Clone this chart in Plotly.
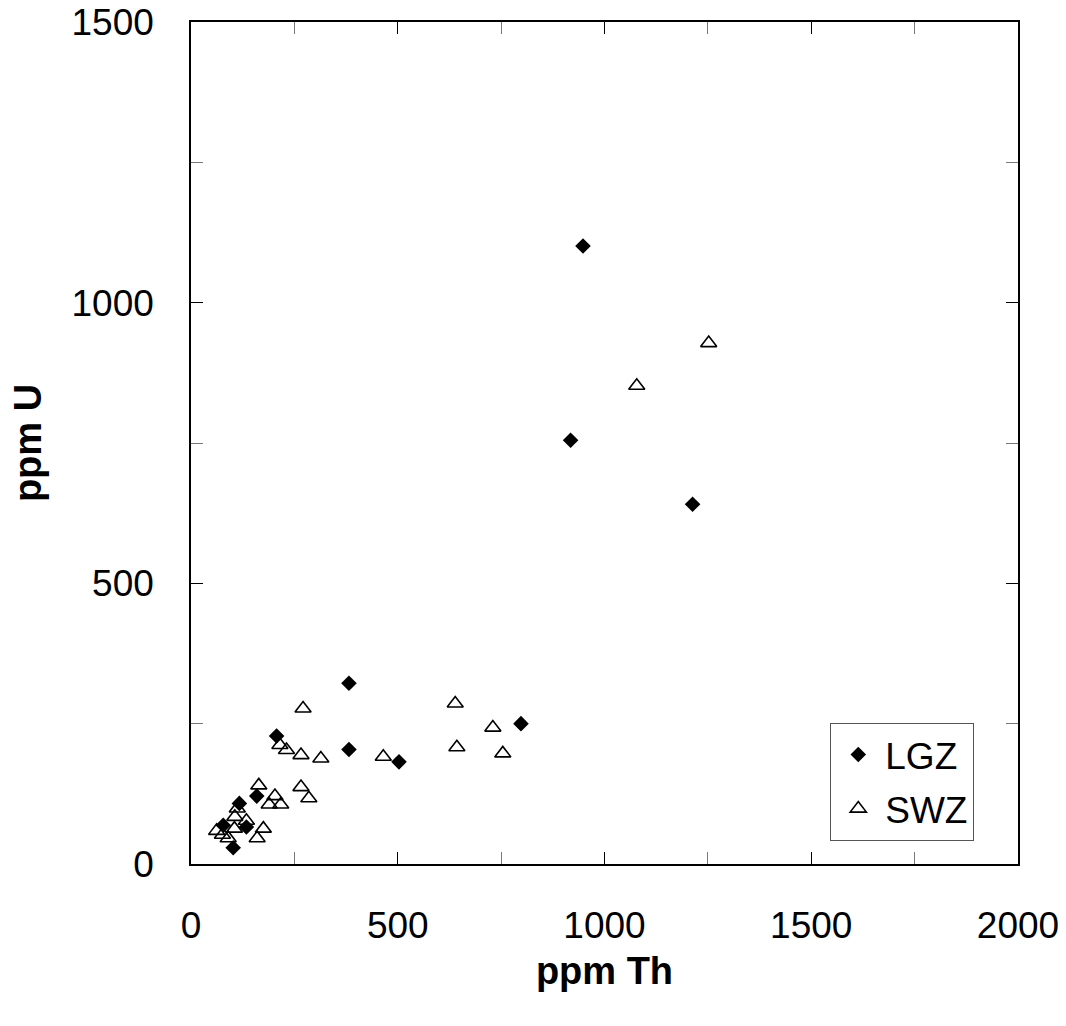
import plotly.graph_objects as go

lgz_th = [948, 918, 1213, 382, 382, 798, 503, 207, 159, 117, 78, 134, 102]
lgz_u = [1101, 755, 641, 322, 204, 250, 182, 228, 121, 108, 69, 66, 29]

swz_th = [1252, 1078, 639, 730, 643, 754, 465, 271, 215, 231, 266, 314, 164, 266,
          285, 203, 189, 217, 112, 134, 106, 105, 175, 62, 76, 90, 160]
swz_u = [928, 852, 286, 243, 208, 197, 191, 277, 212, 203, 194, 188, 140, 137,
         117, 121, 106, 106, 99, 77, 84, 63, 63, 59, 52, 46, 46]

FONT = "Liberation Sans, Arial, sans-serif"

fig = go.Figure()
fig.add_trace(go.Scatter(
    x=lgz_th, y=lgz_u, mode="markers", name="LGZ", legendgroup="a",
    marker=dict(symbol="diamond", size=12, color="black", line=dict(width=0)),
))
fig.add_trace(go.Scatter(
    x=swz_th, y=swz_u, mode="markers", name="SWZ", legendgroup="b",
    marker=dict(symbol="triangle-up-open", size=14, color="black", line=dict(width=1.6, color="black")),
))

axis_common = dict(
    showline=True, linecolor="black", linewidth=1.5, mirror="ticks",
    ticks="inside", ticklen=12, tickwidth=1, tickcolor="black",
    showgrid=False, zeroline=False, automargin=False,
    tickfont=dict(family=FONT, size=37, color="black"),
    minor=dict(ticks="inside", ticklen=12, tickwidth=1, tickcolor="#777777", showgrid=False),
)

fig.update_xaxes(
    range=[0, 2000], dtick=500, tick0=0, minor_dtick=250,
    ticklabelstandoff=28,
    title=dict(text="<b>ppm Th</b>", font=dict(family=FONT, size=38, color="black"), standoff=12),
    **axis_common,
)
fig.update_yaxes(
    range=[0, 1500], dtick=500, tick0=0, minor_dtick=250,
    ticklabelstandoff=28,
    title=dict(text="<b>ppm U</b>", font=dict(family=FONT, size=38, color="black"), standoff=18),
    **axis_common,
)

fig.update_layout(
    width=1066, height=1026,
    margin=dict(l=191, r=48, t=22, b=162),
    paper_bgcolor="white", plot_bgcolor="white",
    font=dict(family=FONT, color="black"),
    showlegend=True,
    legend=dict(
        x=0.773, y=0.1675, xanchor="left", yanchor="top",
        bordercolor="#555555", borderwidth=1, bgcolor="white",
        font=dict(family=FONT, size=37, color="black"),
        itemsizing="trace", itemwidth=44,
        traceorder="grouped", tracegroupgap=3,
    ),
)

fig.write_html("out.html")
